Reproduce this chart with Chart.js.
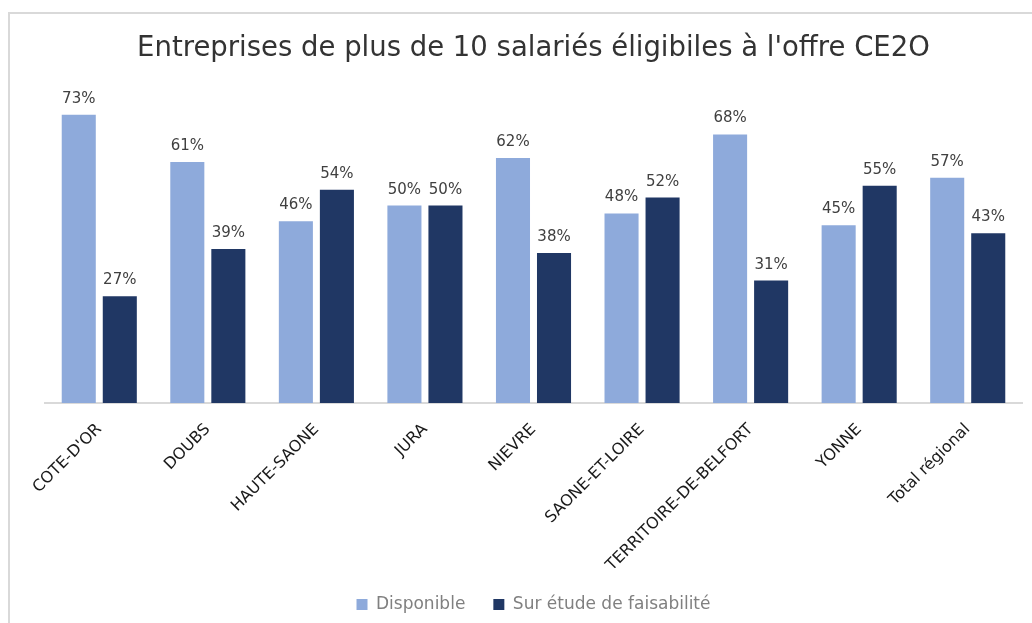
<!DOCTYPE html>
<html>
<head>
<meta charset="utf-8">
<script src="https://cdn.jsdelivr.net/npm/chart.js@4.4.1/dist/chart.umd.min.js"></script>
<style>
  html, body { margin: 0; padding: 0; background: #fff; }
  #wrap { position: relative; width: 1032px; height: 623px; overflow: hidden; }
  #frame { position: absolute; left: 8px; top: 12px; width: 1100px; height: 700px;
           border-left: 2px solid #d9d9d9; border-top: 2px solid #d9d9d9; }
  canvas { position: absolute; left: 0; top: 0; }
</style>
</head>
<body>
<div id="wrap">
  <div id="frame"></div>
  <canvas id="chart" width="1032" height="623"></canvas>
</div>
<script>
const departements = ['COTE-D\'OR', 'DOUBS', 'HAUTE-SAONE', 'JURA', 'NIEVRE', 'SAONE-ET-LOIRE', 'TERRITOIRE-DE-BELFORT', 'YONNE', 'Total régional'];
const disponible = [73, 61, 46, 50, 62, 48, 68, 45, 57];
const surEtude = [27, 39, 54, 50, 38, 52, 31, 55, 43];

const FONT = "'DejaVu Sans', sans-serif";

// petites étiquettes "73%" au-dessus des barres
const valueLabels = {
  id: 'valueLabels',
  afterDatasetsDraw(chart) {
    const ctx = chart.ctx;
    ctx.save();
    ctx.font = '15px ' + FONT;
    ctx.fillStyle = '#404040';
    ctx.textAlign = 'center';
    ctx.textBaseline = 'alphabetic';
    chart.data.datasets.forEach((ds, i) => {
      chart.getDatasetMeta(i).data.forEach((bar, j) => {
        ctx.fillText(ds.data[j] + '%', bar.x, bar.y - 12);
      });
    });
    ctx.restore();
  }
};

new Chart(document.getElementById('chart'), {
  type: 'bar',
  data: {
    labels: departements,
    datasets: [
      { label: 'Disponible', data: disponible, backgroundColor: '#8eaadb' },
      { label: 'Sur étude de faisabilité', data: surEtude, backgroundColor: '#203764' }
    ]
  },
  options: {
    responsive: false,
    animation: false,
    events: [],
    datasets: { bar: { categoryPercentage: 0.756, barPercentage: 0.83 } },
    layout: { padding: { left: 45, right: 10, top: 0, bottom: 0 } },
    plugins: {
      title: {
        display: true,
        text: 'Entreprises de plus de 10 salariés éligibiles à l\'offre CE2O',
        color: '#333333',
        font: { family: FONT, size: 27.5, weight: 'normal' },
        padding: { top: 32, bottom: 22 }
      },
      legend: {
        position: 'bottom',
        labels: {
          color: '#808080',
          font: { family: FONT, size: 17 },
          boxWidth: 11, boxHeight: 11,
          padding: 28
        }
      },
      tooltip: { enabled: false }
    },
    scales: {
      x: {
        grid: { display: false },
        border: { display: true, color: '#d9d9d9', width: 2 },
        ticks: {
          color: '#1a1a1a',
          font: { family: FONT, size: 16 },
          minRotation: 45, maxRotation: 45,
          padding: 9,
          autoSkip: false
        },
        afterFit(scale) {
          scale.paddingLeft = 0;
          scale.paddingRight = 0;
          scale.height = 165;
        }
      },
      y: {
        display: false,
        min: 0,
        max: 80
      }
    }
  },
  plugins: [valueLabels]
});
</script>
</body>
</html>
